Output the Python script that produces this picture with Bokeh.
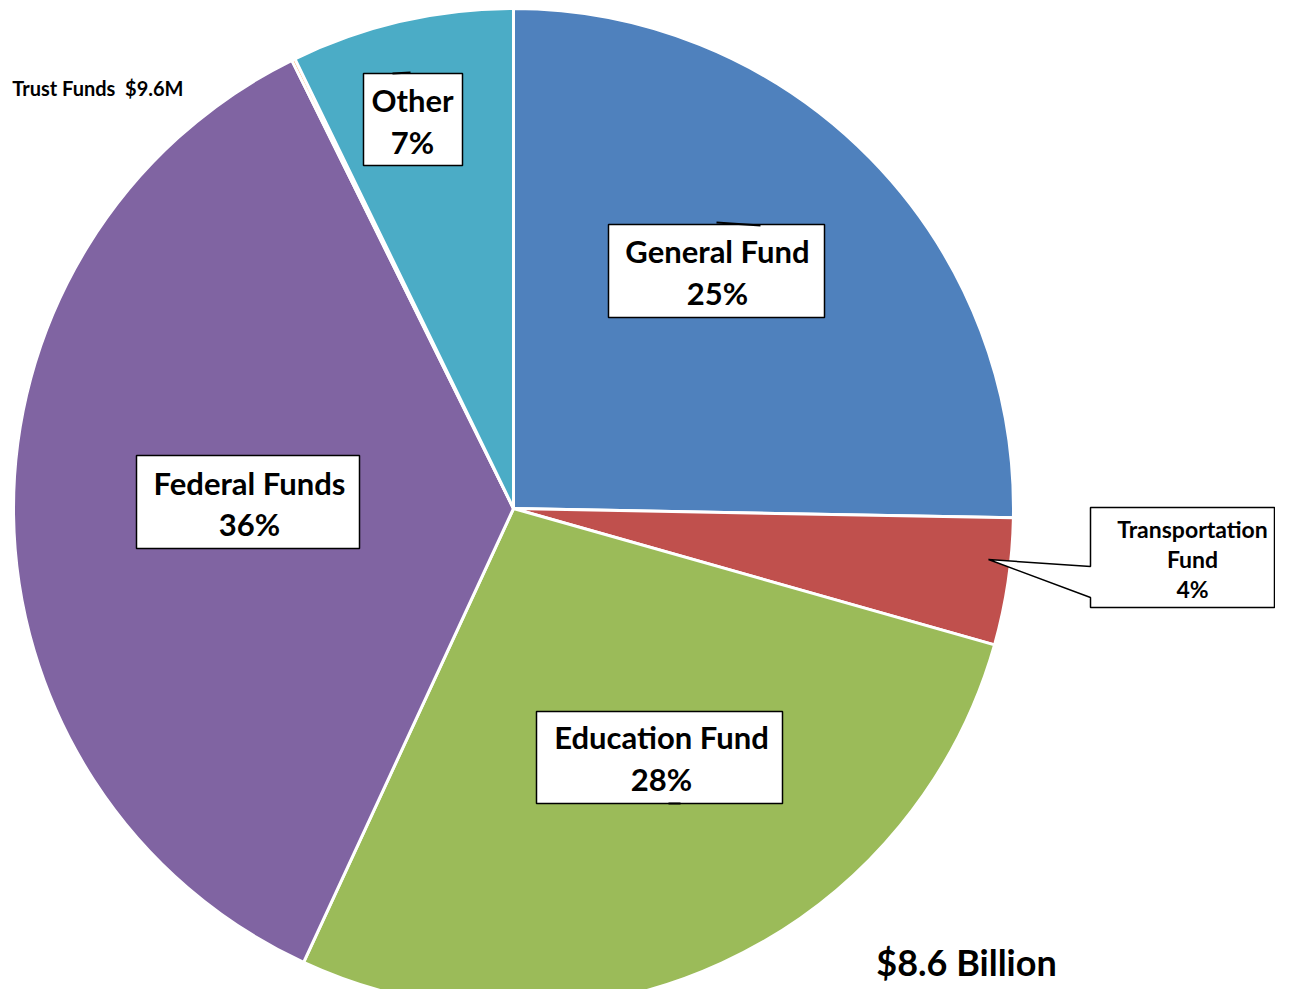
import numpy as np
from bokeh.plotting import figure
from bokeh.models import Range1d
from bokeh.core.properties import value
from bokeh.embed import file_html
from bokeh.resources import INLINE

# ---- data ----
categories = ["General Fund", "Transportation Fund", "Education Fund",
              "Federal Funds", "Trust Funds", "Other"]
shares = [25.3, 4.1, 27.5, 35.8, 0.11, 7.2]
colors = ["#4F81BD", "#C0504D", "#9BBB59", "#8064A2", "#F79646", "#4BACC6"]
box_labels = {
    "General Fund": ["General Fund", "25%"],
    "Transportation Fund": ["Transportation", "Fund", "4%"],
    "Education Fund": ["Education Fund", "28%"],
    "Federal Funds": ["Federal Funds", "36%"],
    "Other": ["Other", "7%"],
}
trust_label = "Trust Funds\u00a0 $9.6M"
total_label = "$8.6 Billion"

FONT = value("Lato")
W, H = 1275, 989
CX, CY, R = 513, 481, 500

p = figure(width=W, height=H, x_range=Range1d(0, W), y_range=Range1d(0, H),
           output_backend="svg", toolbar_location=None, min_border=0)
p.axis.visible = False
p.grid.visible = False
p.outline_line_color = None
p.background_fill_color = "white"

# ---- pie wedges ----
vals = np.array(shares, dtype=float)
frac = vals / vals.sum()
cum = np.concatenate([[0], np.cumsum(frac)])
starts = np.pi / 2 - 2 * np.pi * cum[:-1]
ends = np.pi / 2 - 2 * np.pi * cum[1:]
p.wedge(x=CX, y=CY, radius=R, start_angle=starts, end_angle=ends,
        direction="clock", fill_color=colors, line_color="white", line_width=3)

# ---- labelled boxes (layout: left, right, top, bottom, text x, text y of lines) ----
layout = {
    "Other": (363, 462, 916, 824, 412, [890, 848]),
    "General Fund": (608, 824, 765, 672, 717, [739, 697]),
    "Federal Funds": (136, 359, 534, 441, 249, [507, 466]),
    "Education Fund": (536, 782, 278, 186, 661, [253, 211]),
}
for name, (l, r, t, b, tx, tys) in layout.items():
    p.quad(left=[l], right=[r], top=[t], bottom=[b], fill_color="white",
           line_color="black", line_width=1.5)
    lines = box_labels[name]
    p.text(x=[tx] * len(lines), y=tys, text=lines, text_font=FONT,
           text_font_style="bold", text_font_size="31px", text_align="center",
           text_baseline="middle", text_color="black")

# small leader stubs at box edges
p.segment(x0=[392, 716, 668], y0=[916, 767, 186], x1=[410, 760, 680],
          y1=[917, 764, 186], line_color="black", line_width=2)

# transportation callout
bl, br, bt, bb = 1090, 1274, 482, 382
px_, py_ = 988, 430
p.patch(x=[bl, br, br, bl, bl, px_, bl], y=[bt, bt, bb, bb, 392, py_, 423],
        fill_color="white", line_color="black", line_width=1.5)
tl = box_labels["Transportation Fund"]
p.text(x=[1192] * 3, y=[461, 431, 401], text=tl, text_font=FONT,
       text_font_style="bold", text_font_size="23px", text_align="center",
       text_baseline="middle", text_color="black")

# trust funds label
p.text(x=[183], y=[902], text=[trust_label], text_font=FONT,
       text_font_style="bold", text_font_size="20px", text_align="right",
       text_baseline="middle", text_color="black")

# total
p.text(x=[966], y=[28], text=[total_label], text_font=FONT,
       text_font_style="bold", text_font_size="36px", text_align="center",
       text_baseline="middle", text_color="black")

open("out.html", "w").write(file_html(p, INLINE))
